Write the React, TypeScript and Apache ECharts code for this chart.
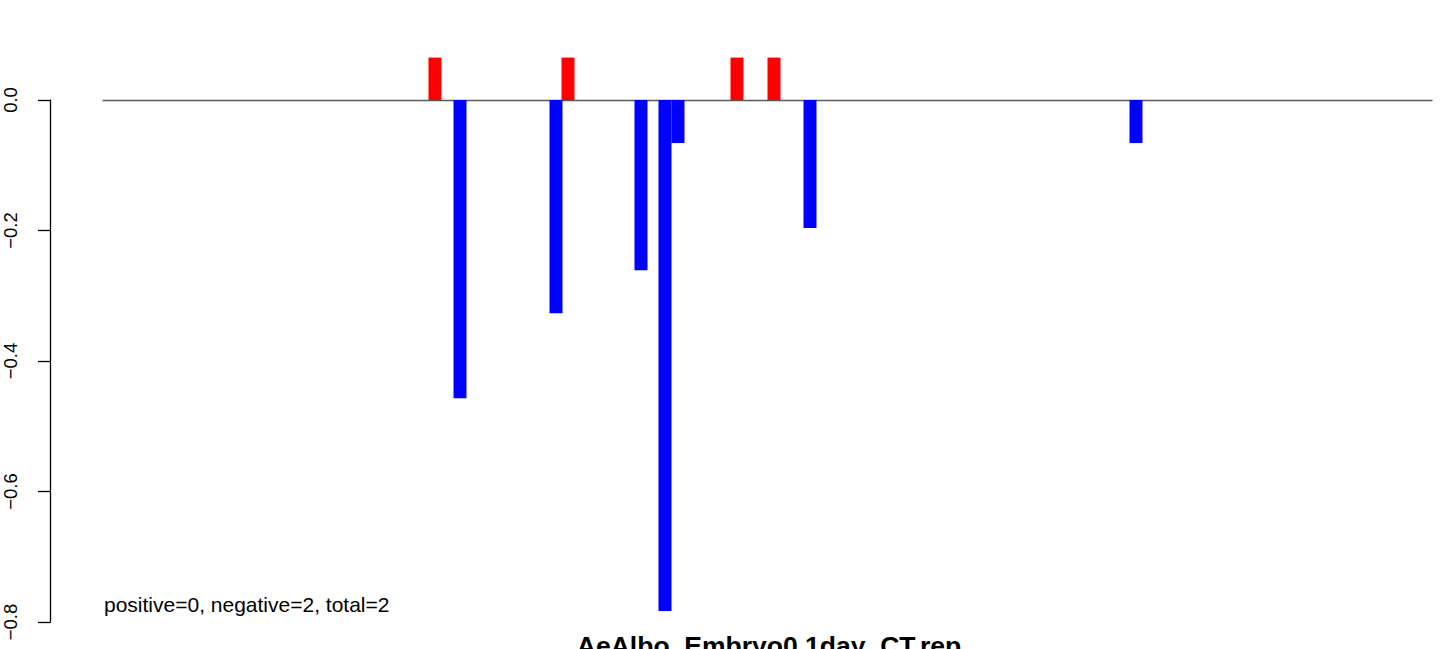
import React, { useEffect, useRef } from "react";
import * as echarts from "echarts";

// bar positions along the x range (0..1329) and their values
const posPositions = [332, 465, 634, 671];
const posValues = [0.065, 0.065, 0.065, 0.065];
const negPositions = [357, 453, 538, 562, 575, 707, 1033];
const negValues = [-0.457, -0.327, -0.261, -0.783, -0.066, -0.196, -0.066];
const yTicks = [-0.8, -0.6, -0.4, -0.2, 0.0];
const summaryText = "positive=0, negative=2, total=2";
const titleText = "AeAlbo_Embryo0.1day_CT.rep";

const FONT = "Liberation Sans, Arial, Helvetica, sans-serif";

export default function App() {
  const ref = useRef<HTMLDivElement>(null);
  useEffect(() => {
    if (!ref.current) return;
    const chart = echarts.init(ref.current, null, { renderer: "svg" });
    chart.setOption({
      animation: false,
      backgroundColor: "#ffffff",
      grid: { left: 103, right: 12, top: 100, bottom: 27, containLabel: false },
      xAxis: {
        type: "value",
        min: 0,
        max: 1329,
        axisLine: { show: true, onZero: true, lineStyle: { color: "#5a5a5a", width: 1.4 } },
        axisTick: { show: false },
        axisLabel: { show: false },
        splitLine: { show: false },
      },
      yAxis: {
        type: "value",
        min: yTicks[0],
        max: yTicks[yTicks.length - 1],
        interval: 0.2,
        offset: 53,
        axisLine: { show: true, onZero: false, lineStyle: { color: "#000000", width: 1.3 } },
        axisTick: { show: true, inside: false, length: 12, lineStyle: { color: "#000000", width: 1.3 } },
        axisLabel: {
          show: true,
          rotate: 90,
          margin: 30,
          color: "#000000",
          fontSize: 18.5,
          fontFamily: FONT,
          formatter: (v: number) => v.toFixed(1).replace("-", "\u2212"),
        },
        splitLine: { show: false },
      },
      series: [
        {
          type: "bar",
          data: posPositions.map((p, i) => [p, posValues[i]]),
          barWidth: 13,
          barGap: "-100%",
          clip: false,
          itemStyle: { color: "#ff0000" },
        },
        {
          type: "bar",
          data: negPositions.map((p, i) => [p, negValues[i]]),
          barWidth: 13,
          barGap: "-100%",
          clip: false,
          itemStyle: { color: "#0000ff" },
        },
      ],
      graphic: [
        {
          type: "text",
          left: 104,
          top: 594,
          style: { text: summaryText, fontSize: 21, fontFamily: FONT, fill: "#000000" },
        },
        {
          type: "text",
          x: 769,
          y: 632,
          style: {
            text: titleText,
            fontSize: 26.5,
            fontWeight: "bold",
            fontFamily: FONT,
            fill: "#000000",
            textAlign: "center",
            textVerticalAlign: "top",
          },
        },
      ],
    });
    return () => chart.dispose();
  }, []);
  return <div ref={ref} style={{ width: 1444, height: 649, position: "absolute", left: 0, top: 0 }} />;
}
